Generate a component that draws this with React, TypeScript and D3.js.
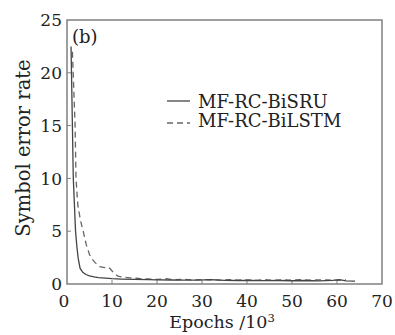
import React from "react";
import * as d3 from "d3";

// epochs (x10^3) and symbol error rate
const sruEpochs = [0.9, 1.2, 1.4, 1.7, 1.9, 2.2, 2.5, 2.9, 3.5, 4.2, 5, 6, 7, 8.5, 10, 12, 15, 18, 20, 23, 26, 29, 32, 35, 38, 41, 44, 47, 50, 53, 56, 59, 60.5, 62, 64];
const sruValues = [22.5, 15, 10, 7, 5, 3.5, 2.4, 1.5, 1.1, 0.9, 0.78, 0.68, 0.6, 0.55, 0.5, 0.47, 0.44, 0.42, 0.4, 0.38, 0.37, 0.36, 0.42, 0.35, 0.33, 0.34, 0.32, 0.33, 0.31, 0.33, 0.3, 0.35, 0.42, 0.3, 0.28];
const lstmEpochs = [1.2, 1.5, 1.8, 2.0, 2.4, 3.0, 3.6, 4.3, 5, 5.5, 6.3, 7.3, 8.3, 9.2, 9.7, 10.5, 11.3, 12.5, 14, 16, 18, 20, 22, 24, 26, 28, 30, 32, 34, 36, 38, 40, 42, 44, 46, 48, 50, 52, 54, 56, 58, 60, 62];
const lstmValues = [22, 18.5, 15, 10, 7.5, 6, 5, 3.7, 2.8, 2.4, 2.0, 1.65, 1.55, 1.6, 1.4, 1.0, 0.75, 0.65, 0.58, 0.52, 0.48, 0.44, 0.5, 0.4, 0.45, 0.38, 0.42, 0.4, 0.36, 0.42, 0.37, 0.4, 0.35, 0.41, 0.36, 0.4, 0.37, 0.42, 0.36, 0.4, 0.38, 0.35, 0.4];

const xTicks = [0, 10, 20, 30, 40, 50, 60, 70];
const yTicks = [0, 5, 10, 15, 20, 25];
const seriesNames = ["MF-RC-BiSRU", "MF-RC-BiLSTM"];

const App = () => {
    const width = 395;
    const height = 335;
    const left = 67, right = 382, top = 20, bottom = 284;
    const font = "'DejaVu Serif', serif";

    const xScale = d3.scaleLinear().domain([0, 70]).range([left, right]);
    const yScale = d3.scaleLinear().domain([0, 25]).range([bottom, top]);

    const makePath = (xs: number[], ys: number[]) =>
        d3.line<number>()
            .x((_, i) => xScale(xs[i]))
            .y((_, i) => yScale(ys[i]))(xs) || "";

    const frameColor = "#808080";

    return (
        <svg width={width} height={height}
             style={{ position: "absolute", left: 0, top: 0, background: "#fff" }}>
            <rect x={left} y={top} width={right - left} height={bottom - top}
                  fill="none" stroke={frameColor} strokeWidth={1.5} />

            {xTicks.map(t => (
                <g key={"x" + t}>
                    {t > 0 && t < 70 &&
                        <line x1={xScale(t)} x2={xScale(t)} y1={bottom} y2={bottom - 4}
                              stroke={frameColor} strokeWidth={1} />}
                    <text x={xScale(t) - (t === 0 ? 3 : 0)} y={307} textAnchor="middle"
                          fontFamily={font} fontSize={17} fill="#222">{t}</text>
                </g>
            ))}
            {yTicks.map(t => (
                <g key={"y" + t}>
                    {t > 0 && t < 25 &&
                        <line x1={left} x2={left + 4} y1={yScale(t)} y2={yScale(t)}
                              stroke={frameColor} strokeWidth={1} />}
                    <text x={62} y={yScale(t)} dy="0.36em" textAnchor="end"
                          fontFamily={font} fontSize={17} fill="#222">{t}</text>
                </g>
            ))}

            <path d={makePath(lstmEpochs, lstmValues)} fill="none" stroke="#666"
                  strokeWidth={1.3} strokeDasharray="6,4" />
            <path d={makePath(sruEpochs, sruValues)} fill="none" stroke="#444"
                  strokeWidth={1.3} />

            <text x={72} y={43} fontFamily={font} fontSize={18} fill="#222">(b)</text>

            <line x1={167} x2={190} y1={101} y2={101} stroke="#444" strokeWidth={1.3} />
            <line x1={167} x2={190} y1={123} y2={123} stroke="#666" strokeWidth={1.3}
                  strokeDasharray="6,4" />
            <text x={198} y={102} dy="0.36em" fontFamily={font} fontSize={18} fill="#222">{seriesNames[0]}</text>
            <text x={198} y={121} dy="0.36em" fontFamily={font} fontSize={18} fill="#222">{seriesNames[1]}</text>

            <text transform="translate(30,148) rotate(-90)" textAnchor="middle"
                  fontFamily={font} fontSize={19.5} fill="#222">Symbol error rate</text>
            <text x={222} y={328} textAnchor="middle" fontFamily={font} fontSize={17.5} fill="#222">
                Epochs /10<tspan dy={-6} fontSize={11.5}>3</tspan>
            </text>
        </svg>
    );
};

export default App;
